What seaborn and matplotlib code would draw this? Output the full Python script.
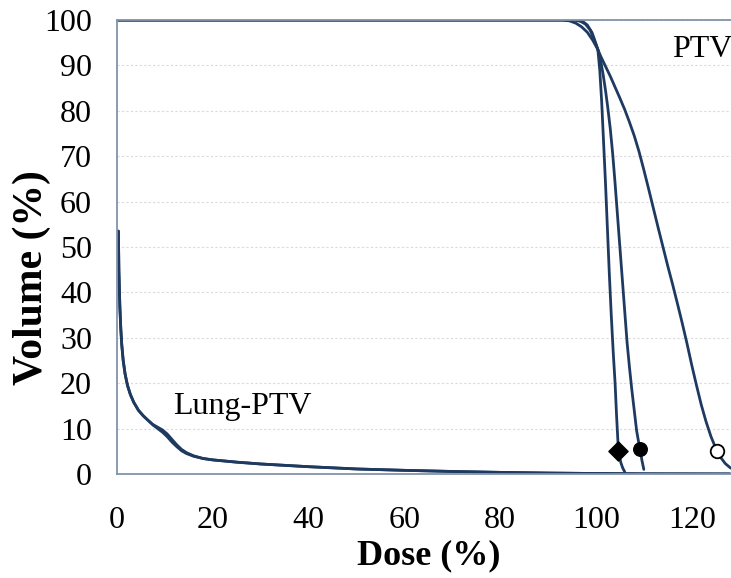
import matplotlib
matplotlib.use("Agg")
import matplotlib.pyplot as plt
from matplotlib.ticker import MultipleLocator
import numpy as np
import pandas as pd
import seaborn as sns

# dose-volume curves (dose %, volume %)
ptv_a_dose = [0, 95.5, 96.8, 97.8, 98.8, 99.6, 100.4, 100.8, 101.2, 101.6, 102, 102.4, 102.8,
              103.2, 103.6, 104, 104.3, 104.6, 104.8, 105.2, 105.6, 106]
ptv_a_vol = [100, 100, 99.7, 99.1, 97.8, 95.8, 93.5, 89, 82, 73, 64, 54, 44,
             35, 27, 20, 13, 7, 4.5, 2.5, 1.3, 0.5]

ptv_b_dose = [0, 96, 97.2, 98.2, 99.2, 100.4, 101, 101.5, 102, 102.5, 103, 103.5, 104, 104.5,
              105, 105.5, 106, 106.5, 107, 107.5, 108, 108.5, 109, 109.3, 109.6, 110]
ptv_b_vol = [100, 100, 99.7, 98.9, 97.2, 93.5, 91, 88, 84.5, 80.5, 76, 70.5, 64, 57,
             50, 43, 36, 29, 23.5, 18.5, 14, 9.5, 6.5, 5, 3, 1]

ptv_c_dose = [0, 93, 94.5, 95.8, 97, 98.2, 99.3, 100.4, 101, 102, 103, 104, 105, 106, 107,
              108, 109, 110, 111, 112, 113, 114, 115, 116, 117, 118, 119, 120, 121, 122,
              123, 124, 125, 126, 127, 128, 129]
ptv_c_vol = [100, 100, 99.8, 99.3, 98.5, 97.3, 95.6, 93.5, 92, 89.8, 87.6, 85.2, 82.8, 80.3, 77.5,
             74.5, 71, 67, 62.8, 58.5, 54.2, 50, 45.8, 41.8, 37.6, 33.3, 28.8, 24, 19.5, 15.2,
             11.5, 8.3, 5.7, 3.7, 2.3, 1.4, 0.8]

lung_dose = [0.3, 0.4, 0.6, 0.8, 1.0, 1.3, 1.7, 2.2, 2.8, 3.5, 4.5, 5.5, 6.5, 7.5, 8.5, 9.5,
             10.5, 11.5, 12.5, 13.5, 14.5, 16, 18, 20, 25, 30, 40, 50, 60, 70, 80, 90, 100, 110, 128]
lung_a_vol = [53.5, 45, 37, 32, 28.5, 25, 22, 19.5, 17.5, 15.8, 14, 12.8, 11.8, 10.8, 10, 9.2,
              8.2, 7, 6, 5.1, 4.5, 3.9, 3.4, 3.1, 2.6, 2.2, 1.6, 1.1, 0.8, 0.55, 0.35, 0.2, 0.1, 0.03, 0]
lung_b_vol = [53.5, 45, 37, 32, 28.5, 25, 22, 19.5, 17.5, 15.8, 14, 12.8, 11.8, 10.9, 10.3, 9.7,
              8.8, 7.6, 6.4, 5.4, 4.7, 4.0, 3.4, 3.1, 2.6, 2.2, 1.6, 1.1, 0.8, 0.55, 0.35, 0.2, 0.1, 0.03, 0]

# markers on the PTV curves
mark_dose = [104.7, 109.2, 125.2]
mark_vol = [5.1, 5.6, 5.1]

navy = "#1f3a60"
axis_col = "#8293aa"

sns.set_style("white")
plt.rcParams["font.family"] = ["Liberation Serif", "DejaVu Serif"]
plt.rcParams["text.color"] = "black"
plt.rcParams["axes.labelcolor"] = "black"

fig = plt.figure(figsize=(7.31, 5.78), dpi=100)
ax = fig.add_axes([0.160, 0.180, 0.840, 0.7854])

curves = [
    (lung_dose, lung_b_vol),
    (lung_dose, lung_a_vol),
    (ptv_a_dose, ptv_a_vol),
    (ptv_b_dose, ptv_b_vol),
    (ptv_c_dose, ptv_c_vol),
]
for xs, ys in curves:
    df = pd.DataFrame({"dose": xs, "vol": ys})
    sns.lineplot(data=df, x="dose", y="vol", ax=ax, color=navy, lw=2.0,
                 sort=False, estimator=None)

ax.scatter(mark_dose[0], mark_vol[0], marker="D", s=95, color="black", zorder=5)
ax.scatter(mark_dose[1], mark_vol[1], marker="o", s=95, color="black", zorder=5)
ax.scatter(mark_dose[2], mark_vol[2], marker="o", s=95, facecolor="white",
           edgecolor="black", linewidth=1.3, zorder=5)

ax.text(115.9, 93.5, "PTV", fontsize=23, va="center", ha="left", color="black")
ax.text(11.7, 14.8, "Lung-PTV", fontsize=23, va="center", ha="left", color="black")

ax.set_xlim(0, 128.2)
ax.set_ylim(0, 100)
ax.xaxis.set_major_locator(MultipleLocator(20))
ax.xaxis.set_minor_locator(MultipleLocator(4))
ax.yaxis.set_major_locator(MultipleLocator(10))
ax.yaxis.set_minor_locator(MultipleLocator(10 / 6))

ax.grid(axis="y", which="major", color="#dadada", linestyle=(0, (2, 2)), lw=0.8)
ax.set_axisbelow(True)

for side in ["left", "bottom", "top"]:
    ax.spines[side].set_color(axis_col)
    ax.spines[side].set_linewidth(1.3)
ax.spines["right"].set_visible(False)

ax.tick_params(axis="both", which="both", direction="out", colors="#999999",
               labelcolor="black", labelsize=23)
ax.tick_params(axis="y", which="major", length=8, width=1, pad=10)
ax.tick_params(axis="y", which="minor", length=5, width=1)
ax.tick_params(axis="x", which="both", length=7, width=1, pad=16)

ax.set_xlabel("Dose (%)", fontsize=26, fontweight="bold", va="center", color="black")
ax.xaxis.set_label_coords(0.507, -0.181)
ax.set_ylabel("Volume (%)", fontsize=30, fontweight="bold", va="center", color="black")
ax.yaxis.set_label_coords(-0.139, 0.432)

fig.savefig("out.png", dpi=100)
